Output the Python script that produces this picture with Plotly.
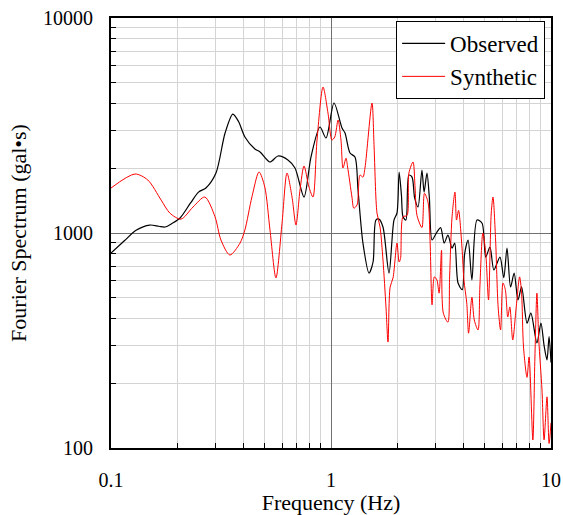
import plotly.graph_objects as go

# Observed spectrum (freq Hz, amplitude gal*s)
obs_freq = [0.100, 0.115, 0.130, 0.150, 0.165, 0.176, 0.190, 0.206, 0.230, 0.250, 0.270, 0.300,
            0.330, 0.358, 0.380, 0.406, 0.451, 0.476, 0.528, 0.574, 0.637, 0.686, 0.754, 0.811,
            0.891, 0.949, 1.032, 1.122, 1.158, 1.22, 1.285, 1.327, 1.397, 1.489, 1.553, 1.60,
            1.652, 1.723, 1.835, 1.933, 1.995, 2.04, 2.09, 2.125, 2.19, 2.26, 2.335, 2.40,
            2.486, 2.59, 2.65, 2.73, 2.80, 2.88, 3.03, 3.15, 3.27, 3.40, 3.55, 3.65, 3.78,
            3.95, 4.05, 4.20, 4.37, 4.61, 4.86, 5.05, 5.28, 5.50, 5.86, 6.10, 6.31, 6.55,
            6.80, 7.08, 7.35, 7.78, 8.10, 8.63, 9.00, 9.30, 9.59, 9.80, 10.0]
obs_amp = [807, 920, 1030, 1089, 1075, 1066, 1110, 1174, 1380, 1550, 1619, 1901,
           2917, 3575, 3300, 2797, 2459, 2382, 2139, 2281, 2187, 2006, 1470, 2256,
           3112, 2766, 4024, 3077, 2917, 2356, 2256, 1585, 898, 651, 733, 1149,
           1160, 1066, 651, 1149, 1239, 1922, 1500, 1190, 1149, 1860, 1820, 1455,
           1321, 1963, 1550, 1900, 1455, 928, 1010, 1060, 898, 978, 850, 898, 585,
           545, 800, 928, 605, 1149, 1110, 773, 860, 673, 773, 620, 851, 561,
           650, 488, 561, 381, 424, 308, 381, 300, 257, 330, 250]

# Synthetic spectrum
syn_freq = [0.100, 0.1285, 0.147, 0.169, 0.185, 0.208, 0.236, 0.267, 0.297, 0.316, 0.347,
            0.386, 0.406, 0.437, 0.471, 0.500, 0.528, 0.562, 0.599, 0.631, 0.665, 0.693,
            0.723, 0.754, 0.794, 0.828, 0.864, 0.920, 0.969, 1.01, 1.04, 1.077, 1.11,
            1.134, 1.17, 1.19, 1.245, 1.27, 1.313, 1.355, 1.397, 1.427, 1.536, 1.57,
            1.618, 1.671, 1.723, 1.778, 1.816, 1.857, 1.914, 1.995, 2.04, 2.07, 2.125,
            2.215, 2.26, 2.36, 2.41, 2.46, 2.59, 2.66, 2.76, 2.82, 2.88, 2.95, 3.03,
            3.10, 3.18, 3.24, 3.40, 3.46, 3.55, 3.66, 3.72, 3.80, 3.94, 4.02, 4.14,
            4.22, 4.37, 4.48, 4.66, 4.75, 4.90, 5.05, 5.20, 5.35, 5.45, 5.60, 5.75,
            5.90, 6.05, 6.20, 6.36, 6.50, 6.70, 6.95, 7.20, 7.35, 7.50, 7.78, 7.95,
            8.27, 8.45, 8.63, 8.80, 9.10, 9.30, 9.59, 9.80, 10.0]
syn_amp = [1619, 1881, 1764, 1423, 1239, 1160, 1321, 1470, 1190, 928, 790,
           898, 1033, 1470, 1922, 1637, 1033, 618, 1110, 1901, 1470, 1089,
           1585, 2049, 1637, 1470, 2708, 4775, 3614, 2708, 2797, 3354, 2708,
           2006, 2228, 2027, 1470, 1305, 1350, 1860, 1820, 2006, 4024, 2512,
           1239, 1066, 749, 453, 311, 561, 618, 898, 733, 760, 1190,
           1206, 1900, 2139, 1637, 1206, 1060, 1530, 1392, 928, 463, 625, 605,
           525, 831, 424, 385, 625, 1190, 1550, 1149, 1275, 851, 605, 473,
           342, 503, 394, 354, 561, 1000, 808, 488, 1239, 1470, 928, 453,
           354, 585, 545, 407, 453, 318, 453, 625, 525, 295, 213, 265,
           109, 265, 525, 318, 186, 109, 173, 105, 131]

x_ticks = [0.1, 1, 10]
x_tick_text = ["0.1", "1", "10"]
x_minor = [0.2, 0.3, 0.4, 0.5, 0.6, 0.7, 0.8, 0.9, 2, 3, 4, 5, 6, 7, 8, 9]
y_ticks = [100, 1000, 10000]
y_tick_text = ["100", "1000", "10000"]
y_minor = [200, 300, 400, 500, 600, 700, 800, 900,
           2000, 3000, 4000, 5000, 6000, 7000, 8000, 9000]

FONT = "Liberation Serif"

fig = go.Figure()
fig.add_trace(go.Scatter(x=obs_freq, y=obs_amp, mode="lines", name="Observed",
                         line=dict(color="black", width=1.2, shape="spline", smoothing=0.8)))
fig.add_trace(go.Scatter(x=syn_freq, y=syn_amp, mode="lines", name="Synthetic",
                         line=dict(color="#ff0000", width=1.0, shape="spline", smoothing=0.8)))

axis_common = dict(
    type="log", showline=True, linecolor="black", linewidth=2, mirror=True,
    showgrid=True, gridcolor="#707070", gridwidth=1.3,
    ticks="", tickfont=dict(family=FONT, size=20, color="black"),
    zeroline=False, automargin=False,
)

fig.update_xaxes(**axis_common, range=[-1, 1], tickvals=x_ticks, ticktext=x_tick_text,
                 ticklabelstandoff=13,
                 minor=dict(tickvals=x_minor, ticks="inside", ticklen=5, tickcolor="black",
                            showgrid=True, gridcolor="#d4d4d4", gridwidth=1),
                 title=dict(text="Frequency (Hz)", font=dict(family=FONT, size=22, color="black"),
                            standoff=7))
fig.update_yaxes(**axis_common, range=[2, 4], tickvals=y_ticks, ticktext=y_tick_text,
                 ticklabelstandoff=12,
                 minor=dict(tickvals=y_minor, ticks="inside", ticklen=5, tickcolor="black",
                            showgrid=True, gridcolor="#d4d4d4", gridwidth=1),
                 title=dict(text="Fourier Spectrum (gal•s)",
                            font=dict(family=FONT, size=22, color="black"), standoff=10))

fig.update_layout(
    width=563, height=515,
    margin=dict(l=111, r=12, t=18, b=67),
    paper_bgcolor="white", plot_bgcolor="white",
    showlegend=True,
    legend=dict(x=0.648, y=0.993, xanchor="left", yanchor="top",
                bgcolor="white", bordercolor="black", borderwidth=1,
                font=dict(family=FONT, size=23, color="black"),
                itemwidth=43, tracegroupgap=0),
)

fig.write_html("out.html", config={"displayModeBar": False},
               post_script="document.body.style.margin='0';document.body.style.overflow='hidden';")
